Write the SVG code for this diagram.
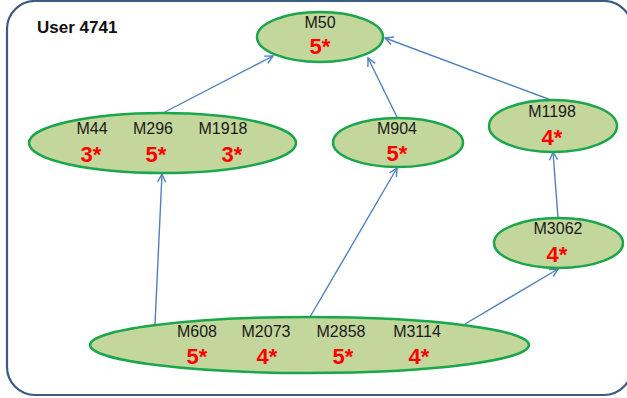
<svg xmlns="http://www.w3.org/2000/svg" width="627" height="398" viewBox="0 0 627 398">
  <style>
    .frame { fill: #ffffff; stroke: #3b5b82; stroke-width: 2.2; }
    .node { fill: #c3d69b; stroke: #1aa64a; stroke-width: 2.5; }
    .mid { font-family: "Liberation Sans", Arial, sans-serif; font-size: 16px; fill: #1a1a1a; text-anchor: middle; }
    .rate { font-family: "Liberation Sans", Arial, sans-serif; font-size: 22px; font-weight: bold; fill: #ff0000; text-anchor: middle; }
    .title { font-family: "Liberation Sans", Arial, sans-serif; font-size: 17px; font-weight: bold; fill: #111111; }
    .edge { fill: none; stroke: #4f81bd; stroke-width: 1.4; marker-end: url(#arrow); }
  </style>
  <defs>
    <marker id="arrow" markerUnits="userSpaceOnUse" markerWidth="12" markerHeight="12" refX="9" refY="5" orient="auto">
      <path d="M1,1 L9,5 L1,9" fill="none" stroke="#4f81bd" stroke-width="1.4"/>
    </marker>
  </defs>

  <rect class="frame" x="7" y="1" width="625" height="394" rx="28" ry="28"/>
  <text class="title" x="37" y="33">User 4741</text>

  <g id="connectors">
    <line class="edge" x1="163" y1="113" x2="273" y2="56"/>
    <line class="edge" x1="397" y1="117" x2="368" y2="58"/>
    <line class="edge" x1="551" y1="100" x2="385" y2="38"/>
    <line class="edge" x1="155" y1="324" x2="162" y2="174"/>
    <line class="edge" x1="310" y1="317" x2="397" y2="168"/>
    <line class="edge" x1="465" y1="324" x2="558" y2="269"/>
    <line class="edge" x1="558" y1="218" x2="553" y2="152"/>
  </g>

  <g id="m50">
    <ellipse class="node" cx="320" cy="37" rx="63" ry="25"/>
    <text class="mid" x="320" y="28">M50</text>
    <text class="rate" x="320" y="54">5*</text>
  </g>

  <g id="m44-m296-m1918">
    <ellipse class="node" cx="162.5" cy="143" rx="133.5" ry="30"/>
    <text class="mid" x="92" y="134">M44</text>
    <text class="mid" x="153" y="134">M296</text>
    <text class="mid" x="223" y="134">M1918</text>
    <text class="rate" x="91" y="162">3*</text>
    <text class="rate" x="156" y="162">5*</text>
    <text class="rate" x="232" y="162">3*</text>
  </g>

  <g id="m904">
    <ellipse class="node" cx="398" cy="142.5" rx="65" ry="24.5"/>
    <text class="mid" x="397" y="134">M904</text>
    <text class="rate" x="397" y="161">5*</text>
  </g>

  <g id="m1198">
    <ellipse class="node" cx="553" cy="126" rx="64" ry="26"/>
    <text class="mid" x="552" y="117">M1198</text>
    <text class="rate" x="552" y="145">4*</text>
  </g>

  <g id="m3062">
    <ellipse class="node" cx="558.5" cy="243" rx="64.5" ry="25"/>
    <text class="mid" x="558" y="234">M3062</text>
    <text class="rate" x="557" y="262">4*</text>
  </g>

  <g id="m608-m2073-m2858-m3114">
    <ellipse class="node" cx="309.5" cy="345" rx="219.5" ry="28"/>
    <text class="mid" x="197" y="337">M608</text>
    <text class="mid" x="266" y="337">M2073</text>
    <text class="mid" x="341" y="337">M2858</text>
    <text class="mid" x="417" y="337">M3114</text>
    <text class="rate" x="197" y="364">5*</text>
    <text class="rate" x="267" y="364">4*</text>
    <text class="rate" x="343" y="364">5*</text>
    <text class="rate" x="419" y="364">4*</text>
  </g>
</svg>
